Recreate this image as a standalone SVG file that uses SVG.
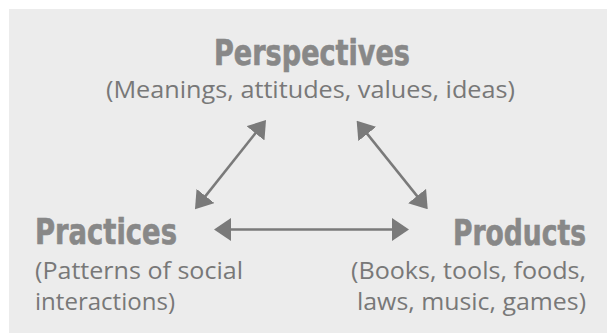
<svg xmlns="http://www.w3.org/2000/svg" width="607" height="333" viewBox="0 0 607 333">
<style>
.title{font-family:"DejaVu Sans Condensed","DejaVu Sans","Liberation Sans",sans-serif;font-weight:bold;font-size:35px;fill:#888888;stroke:#888888;stroke-width:0.6}
.sub{font-family:"Open Sans","DejaVu Sans",sans-serif;font-size:23px;fill:#787878}
.end{text-anchor:end}
.conn{stroke:#7a7a7a;stroke-width:2.5;fill:none}
</style>
<defs>
<marker id="ah" viewBox="0 0 17 23" refX="12" refY="11.5" markerWidth="17" markerHeight="23" markerUnits="userSpaceOnUse" orient="auto-start-reverse">
<path d="M0,0 L17,11.5 L0,23 z" fill="#7a7a7a"/>
</marker>
</defs>
<rect x="0" y="0" width="607" height="333" fill="#ffffff"/>
<rect x="9" y="9" width="598" height="324" fill="#ececec"/>
<g id="perspectives">
<text class="title" x="214" y="65" textLength="196" lengthAdjust="spacingAndGlyphs">Perspectives</text>
<text class="sub" x="106" y="98" textLength="409" lengthAdjust="spacingAndGlyphs">(Meanings, attitudes, values, ideas)</text>
</g>
<g id="practices">
<text class="title" x="35" y="244" textLength="142" lengthAdjust="spacingAndGlyphs">Practices</text>
<text class="sub" x="35" y="279" textLength="208" lengthAdjust="spacingAndGlyphs">(Patterns of social</text>
<text class="sub" x="35" y="310" textLength="140" lengthAdjust="spacingAndGlyphs">interactions)</text>
</g>
<g id="products">
<g transform="translate(586,245) scale(0.85,1)">
<text class="title end" x="0" y="0" textLength="156.5" lengthAdjust="spacingAndGlyphs">Products</text>
</g>
<text class="sub end" x="586" y="279" textLength="235" lengthAdjust="spacingAndGlyphs">(Books, tools, foods,</text>
<text class="sub end" x="586" y="310" textLength="229" lengthAdjust="spacingAndGlyphs">laws, music, games)</text>
</g>
<g id="connectors">
<line class="conn" x1="198.1" y1="205.4" x2="262.9" y2="123.9" marker-start="url(#ah)" marker-end="url(#ah)"/>
<line class="conn" x1="359.8" y1="124.6" x2="424.6" y2="205.4" marker-start="url(#ah)" marker-end="url(#ah)"/>
<line class="conn" x1="219" y1="229.5" x2="404" y2="229.5" marker-start="url(#ah)" marker-end="url(#ah)"/>
</g>
</svg>
